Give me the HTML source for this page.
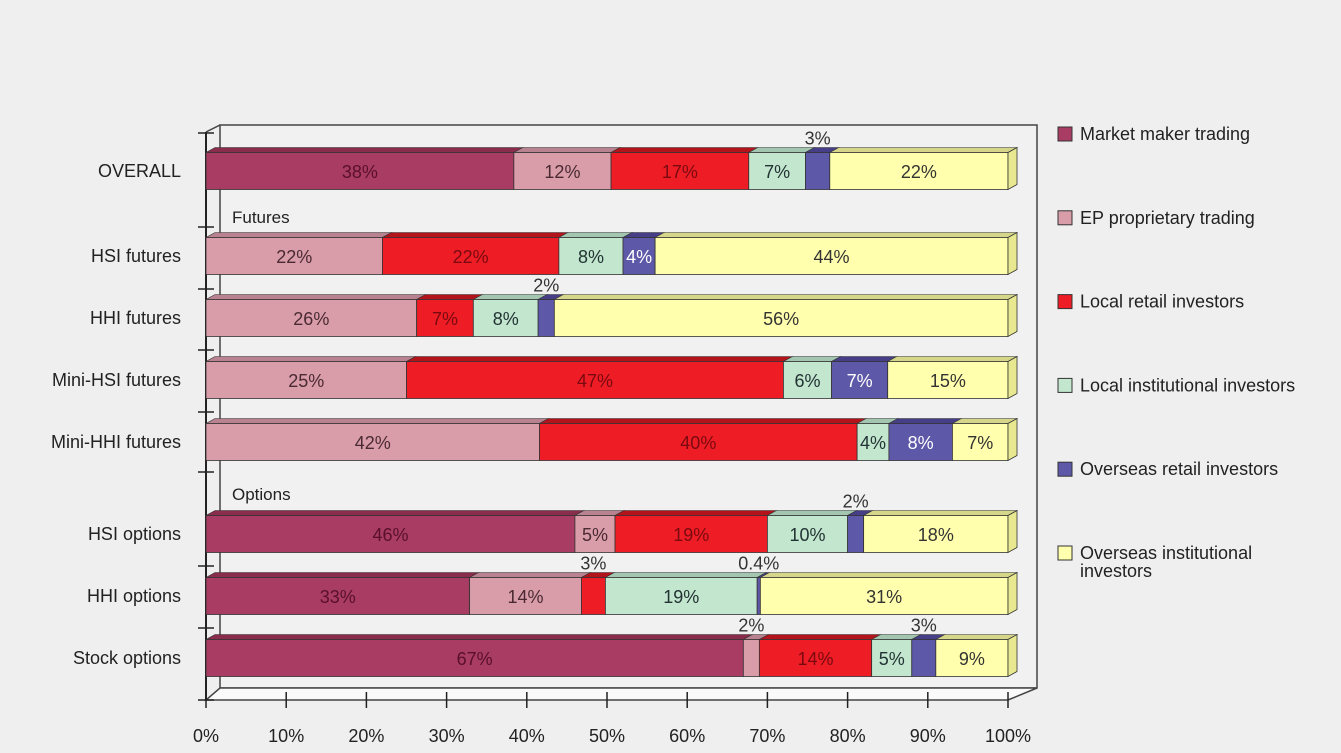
<!DOCTYPE html>
<html><head><meta charset="utf-8"><style>
body{margin:0;background:#efefef;}
svg{display:block;font-family:"Liberation Sans",sans-serif;}
</style></head><body>
<svg id="chart" width="1341" height="753">
<rect width="1341" height="753" fill="#efefef"/>
<g id="frame">
<rect x="220" y="125" width="817" height="563" fill="#f1f1f1" stroke="#444" stroke-width="1.5"/>
<polygon points="206,700 1008,700 1037,688 220,688" fill="#fafafa" stroke="#444" stroke-width="1.5"/>
<line x1="206" y1="132" x2="220" y2="125" stroke="#444" stroke-width="1.5"/>
<line x1="206" y1="132" x2="206" y2="700" stroke="#222" stroke-width="2"/>
</g>
<g id="bars"></g>
<g id="axis"></g>
<text x="232" y="223" font-size="17" fill="#222">Futures</text>
<text x="232" y="500" font-size="17" fill="#222">Options</text>
<g id="legend"></g>
</svg>
<script>
const categories=["OVERALL","HSI futures","HHI futures","Mini-HSI futures","Mini-HHI futures","HSI options","HHI options","Stock options"];
const marketMaker=[38,0,0,0,0,46,33,67];
const epProp=[12,22,26,25,42,5,14,2];
const localRetail=[17,22,7,47,40,19,3,14];
const localInst=[7,8,8,6,4,10,19,5];
const overseasRetail=[3,4,2,7,8,2,0.4,3];
const overseasInst=[22,44,56,15,7,18,31,9];
const seriesNames=["Market maker trading","EP proprietary trading","Local retail investors","Local institutional investors","Overseas retail investors","Overseas institutional investors"];
const ticks=["0%","10%","20%","30%","40%","50%","60%","70%","80%","90%","100%"];

const series=[marketMaker,epProp,localRetail,localInst,overseasRetail,overseasInst];
const colors=["#a83c62","#d99ca9","#ee1c25","#c3e6cf","#5e58a8","#ffffad"];
const tops=["#8a2c4c","#b88290","#b3141b","#a3c6b0","#463f88","#d6d68a"];
const txtCol=["#5a1028","#4a2a32","#7a0a10","#233","#fff","#333"];
const barY=[171,256,318,380,442,534,596,658];
const ns="http://www.w3.org/2000/svg";
const x0=206,x1=1008,H=37,DX=9,DY=5;
const xs=v=>x0+(x1-x0)*v/100;
function mk(t,a,p){const e=document.createElementNS(ns,t);for(const k in a)e.setAttribute(k,a[k]);p.appendChild(e);return e;}
const bars=document.getElementById('bars');
categories.forEach((c,i)=>{
  const vals=series.map(s=>s[i]);
  const tot=vals.reduce((a,b)=>a+b,0);
  const yt=barY[i]-H/2;
  let cum=0;
  const lab=mk('text',{x:181,y:barY[i]+6,'text-anchor':'end','font-size':18,fill:'#222'},bars);
  
  
  lab.textContent=c;
  vals.forEach((v,j)=>{
    if(v<=0)return;
    const a=xs(cum/tot*100),b=xs((cum+v)/tot*100);cum+=v;
    const tp=mk('polygon',{points:`${a},${yt} ${b},${yt} ${b+DX},${yt-DY} ${a+DX},${yt-DY}`,fill:tops[j],stroke:'#333','stroke-width':0.6},bars);
    
    
    const r=mk('rect',{x:a,y:yt,width:b-a,height:H,fill:colors[j],stroke:'#333','stroke-width':0.8},bars);
    
    
    const small=v<=3;
    const t=mk('text',{x:(a+b)/2,y:small?yt-DY-3:barY[i]+7,'text-anchor':'middle','font-size':18,fill:small?'#333':txtCol[j]},bars);
    
    
    t.textContent=v+'%';
  });
  const e=xs(100);
  const cap=mk('polygon',{points:`${e},${yt} ${e+DX},${yt-DY} ${e+DX},${yt+H-DY} ${e},${yt+H}`,fill:'#e8e890',stroke:'#333','stroke-width':0.8},bars);
  
  
});
const ax=document.getElementById('axis');
ticks.forEach((t,i)=>{
  const x=xs(i*10);
  const l=mk('line',{x1:x,y1:692,x2:x,y2:708,stroke:'#222','stroke-width':1.5},ax);
  
  
  const tx=mk('text',{x:x,y:742,'text-anchor':'middle','font-size':18,fill:'#222'},ax);
  
  
  tx.textContent=t;
});
[133,227,289,350,412,472,566,628,700].forEach(y=>{
  const l=mk('line',{x1:198,y1:y,x2:214,y2:y,stroke:'#222','stroke-width':1.5},ax);
  
  
});
const lg=document.getElementById('legend');
seriesNames.forEach((n,i)=>{
  const y=134+i*83.8;
  const r=mk('rect',{x:1058,y:y-7,width:14,height:14,fill:colors[i],stroke:'#333','stroke-width':1},lg);
  
  
  const t=mk('text',{x:1080,y:y+6,'font-size':18,fill:'#222'},lg);
  
  
  if(i===5){t.textContent='Overseas institutional';const t2=mk('text',{x:1080,y:y+24,'font-size':18,fill:'#222'},lg);t2.textContent='investors';}
  else t.textContent=n;
});
</script>
</body></html>
